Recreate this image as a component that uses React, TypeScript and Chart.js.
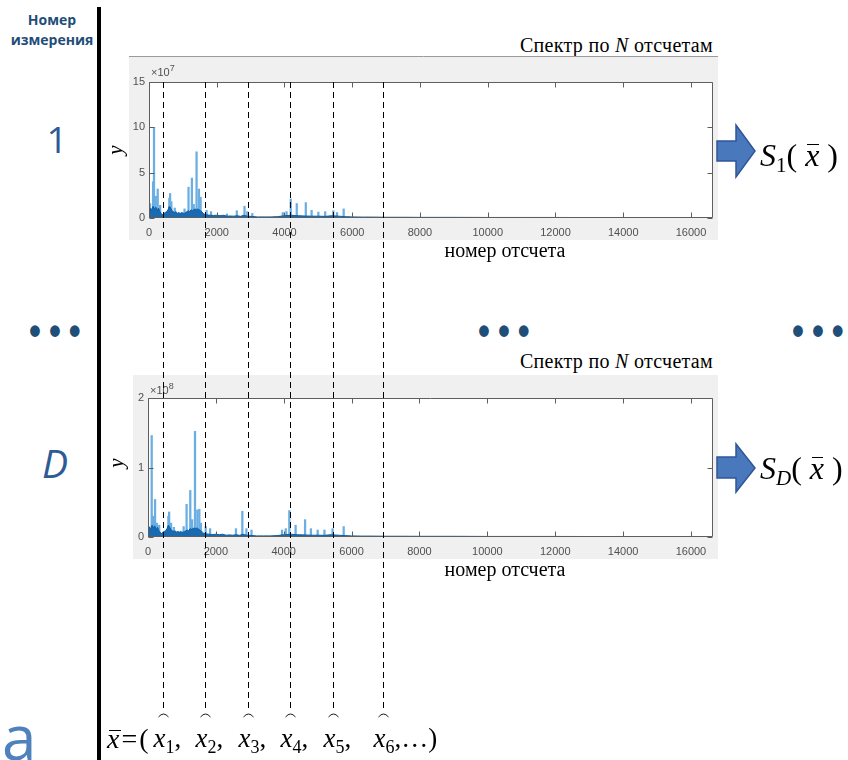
import React, { useEffect, useRef, useState } from "react";
import { Chart, registerables } from "chart.js";
Chart.register(...registerables);

// ---------- data ----------
const X_MAX = 16650;
const xTickValues = [0, 2000, 4000, 6000, 8000, 10000, 12000, 14000, 16000];
const y1TickValues = [0, 5, 10, 15]; // ×10^7
const y2TickValues = [0, 1, 2]; // ×10^8
const featureSamples = [415, 1662, 2908, 4154, 5430, 6914];

const floorPos = [0, 40, 80, 120, 160, 200, 240, 280, 320, 360,
  400, 440, 480, 520, 560, 600, 640, 680, 720, 760,
  800, 840, 880, 920, 960, 1000, 1040, 1080, 1120, 1160,
  1200, 1240, 1280, 1320, 1360, 1400, 1440, 1480, 1520, 1560,
  1600, 1650, 1700, 1800, 1900, 2000, 2100, 2200, 2300, 2400,
  2500, 2600, 2700, 2800, 2900, 3000, 3200, 3400, 3600, 3800,
  4000, 4200, 4400, 4600, 4800, 5000, 5200, 5400, 5600, 5800,
  6000, 6300, 6600, 7000, 7500, 8000, 9000, 10000, 11000, 12000,
  13000, 14000, 15000, 16000, 16400];

const floor1Val = [0.2, 1.1, 0.9, 1.3, 1.0, 1.2, 0.8, 1.1, 0.7, 0.5,
  0.35, 0.5, 0.6, 0.7, 0.9, 1.3, 1.1, 0.8, 0.7, 0.6,
  0.7, 0.5, 0.6, 0.5, 0.6, 0.55, 0.5, 0.6, 0.7, 0.8,
  0.7, 0.9, 0.8, 0.9, 1.0, 0.9, 1.0, 0.9, 0.8, 0.7,
  0.5, 0.4, 0.35, 0.3, 0.28, 0.3, 0.25, 0.3, 0.2, 0.22,
  0.2, 0.25, 0.18, 0.3, 0.2, 0.18, 0.12, 0.12, 0.12, 0.15,
  0.25, 0.3, 0.25, 0.22, 0.2, 0.2, 0.18, 0.25, 0.2, 0.15,
  0.12, 0.1, 0.1, 0.08, 0.08, 0.07, 0.07, 0.06, 0.06, 0.06,
  0.05, 0.05, 0.05, 0.05, 0.05];

const floor2Val = [0.03, 0.14, 0.12, 0.17, 0.13, 0.16, 0.1, 0.14, 0.09, 0.07,
  0.05, 0.07, 0.08, 0.09, 0.12, 0.17, 0.14, 0.1, 0.09, 0.08,
  0.09, 0.07, 0.08, 0.07, 0.08, 0.07, 0.07, 0.08, 0.09, 0.1,
  0.09, 0.12, 0.11, 0.12, 0.13, 0.12, 0.13, 0.12, 0.1, 0.09,
  0.07, 0.05, 0.045, 0.04, 0.035, 0.04, 0.033, 0.04, 0.026, 0.03,
  0.026, 0.033, 0.024, 0.04, 0.026, 0.024, 0.016, 0.016, 0.016, 0.02,
  0.033, 0.04, 0.033, 0.03, 0.026, 0.026, 0.024, 0.033, 0.026, 0.02,
  0.016, 0.013, 0.013, 0.011, 0.011, 0.01, 0.01, 0.008, 0.008, 0.008,
  0.007, 0.007, 0.007, 0.007, 0.007];

const spike1Pos = [30, 120, 148, 200, 257, 330, 600, 623, 660, 760, 1050, 1167, 1266, 1320, 1404, 1474, 1523, 1700, 1830, 2300, 2592, 2820, 2900, 3050, 3950, 4060, 4184, 4362, 4629, 4800, 5000, 5200, 5440, 5550, 5747];
const spike1Val = [1.6, 4.0, 10.0, 2.4, 3.2, 1.4, 2.2, 2.7, 1.8, 1.1, 1.0, 3.4, 4.4, 1.5, 7.3, 3.2, 2.3, 0.85, 0.7, 0.45, 0.8, 1.3, 0.7, 0.5, 0.6, 0.7, 2.1, 1.6, 1.7, 0.85, 0.65, 0.7, 0.8, 0.6, 1.0];

const spike2Pos = [30, 109, 150, 208, 260, 330, 600, 623, 680, 760, 1050, 1137, 1246, 1300, 1385, 1454, 1513, 1560, 1700, 1830, 2592, 2780, 2900, 3050, 3950, 4060, 4164, 4350, 4629, 4800, 5000, 5200, 5440, 5767];
const spike2Val = [0.15, 1.46, 0.3, 0.54, 0.2, 0.17, 0.3, 0.36, 0.2, 0.14, 0.15, 0.47, 0.67, 0.25, 1.52, 0.39, 0.4, 0.2, 0.15, 0.12, 0.12, 0.37, 0.12, 0.1, 0.1, 0.12, 0.38, 0.17, 0.25, 0.12, 0.1, 0.1, 0.12, 0.15];

// ---------- layout ----------
const P1 = { left: 129, top: 56, width: 589, height: 184 };
const P2 = { left: 133, top: 375, width: 585, height: 184 };
const SERIF = "'Liberation Serif', 'Times New Roman', serif";
const SANS = "'Liberation Sans', Arial, sans-serif";
const CAL = "'Open Sans', 'Noto Sans', sans-serif";
const BLUE = "#2E5A96";
const DARKBLUE = "#1F4E79";
const TICK_COLOR = "#505050";

function framePlugin(topLine: boolean) {
  return {
    id: "frame",
    beforeDraw(chart: any) {
      const { ctx, chartArea: a, width, height } = chart;
      ctx.save();
      ctx.fillStyle = "#f0f0f0";
      ctx.fillRect(0, 0, width, height);
      if (topLine) {
        ctx.strokeStyle = "#9a9a9a";
        ctx.lineWidth = 1;
        ctx.beginPath();
        ctx.moveTo(0, 0.5);
        ctx.lineTo(width, 0.5);
        ctx.stroke();
      }
      ctx.fillStyle = "#ffffff";
      ctx.fillRect(a.left, a.top, a.right - a.left, a.bottom - a.top);
      ctx.restore();
    },
    afterDatasetsDraw(chart: any) {
      const { ctx, chartArea: a } = chart;
      const xs = chart.scales.x;
      const ys = chart.scales.y;
      const L = Math.round(a.left) + 0.5;
      const R = Math.round(a.right) - 0.5;
      const T = Math.round(a.top) + 0.5;
      const B = Math.round(a.bottom) - 0.5;
      ctx.save();
      ctx.strokeStyle = "#5e5e5e";
      ctx.lineWidth = 1;
      ctx.beginPath();
      ctx.rect(L, T, R - L, B - T);
      xs.ticks.forEach((t: any) => {
        const px = Math.round(xs.getPixelForValue(t.value)) + 0.5;
        ctx.moveTo(px, B);
        ctx.lineTo(px, B - 5);
        ctx.moveTo(px, T);
        ctx.lineTo(px, T + 5);
      });
      ys.ticks.forEach((t: any) => {
        const py = Math.round(ys.getPixelForValue(t.value)) + 0.5;
        ctx.moveTo(L, py);
        ctx.lineTo(L + 5, py);
        ctx.moveTo(R, py);
        ctx.lineTo(R - 5, py);
      });
      ctx.stroke();
      ctx.restore();
    },
  };
}

function makeChart(
  canvas: HTMLCanvasElement,
  spPos: number[],
  spVal: number[],
  flVal: number[],
  yTicks: number[],
  padding: any,
  yWidth: number,
  topLine: boolean
) {
  const tickFont = { family: SANS, size: 11 };
  return new Chart(canvas, {
    type: "bar",
    data: {
      datasets: [
        {
          type: "line",
          data: floorPos.map((x, i) => ({ x, y: flVal[i] })),
          borderColor: "#0b5fa5",
          backgroundColor: "#1a6ab2",
          borderWidth: 1,
          fill: "origin",
          pointRadius: 0,
          tension: 0,
        } as any,
        {
          type: "bar",
          data: spPos.map((x, i) => ({ x, y: spVal[i] })),
          backgroundColor: "#6aaee3",
          borderWidth: 0,
          barThickness: 1.6,
        } as any,
      ],
    },
    options: {
      responsive: false,
      animation: false,
      events: [],
      layout: { padding },
      plugins: {
        legend: { display: false },
        tooltip: { enabled: false },
        title: { display: false },
      },
      scales: {
        x: {
          type: "linear",
          min: 0,
          max: X_MAX,
          offset: false,
          grid: { display: false, offset: false, drawTicks: false },
          border: { display: false },
          afterBuildTicks: (s: any) => {
            s.ticks = xTickValues.map((value) => ({ value }));
          },
          ticks: {
            autoSkip: false,
            maxRotation: 0,
            color: TICK_COLOR,
            font: tickFont,
            padding: 8,
            callback: (v: any) => String(v),
          },
          afterFit: (s: any) => {
            s.height = 22;
          },
        },
        y: {
          type: "linear",
          min: 0,
          max: yTicks[yTicks.length - 1],
          grid: { display: false, drawTicks: false },
          border: { display: false },
          afterBuildTicks: (s: any) => {
            s.ticks = yTicks.map((value) => ({ value }));
          },
          ticks: { color: TICK_COLOR, font: tickFont, padding: 4, callback: (v: any) => String(v) },
          afterFit: (s: any) => {
            s.width = yWidth;
          },
        },
      },
    } as any,
    plugins: [framePlugin(topLine)],
  });
}

const abs = (o: any) => ({ position: "absolute" as const, whiteSpace: "nowrap" as const, ...o });

function Xbar() {
  return (
    <span style={{ display: "inline-block", position: "relative", lineHeight: "1em", fontStyle: "italic" }}>
      x
      <span style={{ position: "absolute", left: "0.06em", right: "0.02em", top: "0.17em", borderTop: "1.3px solid #000" }} />
    </span>
  );
}

function Title({ top }: { top: number }) {
  return (
    <div style={abs({ right: 848 - 713, top, fontFamily: SERIF, fontSize: 20, lineHeight: "22px", color: "#000", letterSpacing: 0.3 })}>
      Спектр по <i>N</i> отсчетам
    </div>
  );
}

function XLabel({ top }: { top: number }) {
  return (
    <div style={abs({ left: 405, width: 200, textAlign: "center", top, fontFamily: SERIF, fontSize: 20, lineHeight: "20px" })}>
      номер отсчета
    </div>
  );
}

function YLabel({ cx, cy }: { cx: number; cy: number }) {
  return (
    <div
      style={abs({
        left: cx - 10,
        top: cy - 10,
        width: 20,
        height: 20,
        lineHeight: "20px",
        textAlign: "center",
        fontFamily: SERIF,
        fontStyle: "italic",
        fontSize: 21,
        transform: "rotate(-90deg)",
      })}
    >
      y
    </div>
  );
}

function Exp({ left, top, p }: { left: number; top: number; p: string }) {
  return (
    <div style={abs({ left, top, fontFamily: SANS, fontSize: 11, lineHeight: "12px", color: TICK_COLOR })}>
      ×10<span style={{ fontSize: 9, position: "relative", top: -5 }}>{p}</span>
    </div>
  );
}

function SLabel({ top, sub, subItalic }: { top: number; sub: string; subItalic: boolean }) {
  return (
    <div style={abs({ left: 760, top, fontFamily: SERIF, fontSize: 32, lineHeight: "32px" })}>
      <i>S</i>
      <span style={{ fontSize: 21, position: "relative", top: 6, fontStyle: subItalic ? "italic" : "normal" }}>{sub}</span>
      (&nbsp;<Xbar />&nbsp;)
    </div>
  );
}

function Dots({ left, top }: { left: number; top: number }) {
  return (
    <div
      style={abs({
        left,
        top,
        fontFamily: SANS,
        fontWeight: "bold",
        fontSize: 34,
        lineHeight: "34px",
        letterSpacing: 8,
        color: DARKBLUE,
        transform: "scaleY(1.2)",
      })}
    >
      •••
    </div>
  );
}

export default function App() {
  const c1 = useRef<HTMLCanvasElement>(null);
  const c2 = useRef<HTMLCanvasElement>(null);
  const [guides, setGuides] = useState<{ xs: number[]; top: number } | null>(null);

  useEffect(() => {
    const ch1 = makeChart(c1.current!, spike1Pos, spike1Val, floor1Val, y1TickValues,
      { left: 0, top: 26, right: 5, bottom: 0 }, 20, true);
    const ch2 = makeChart(c2.current!, spike2Pos, spike2Val, floor2Val, y2TickValues,
      { left: 0, top: 23, right: 5, bottom: 0 }, 15, false);
    const xs = featureSamples.map((v) => Math.round(P1.left + ch1.scales.x.getPixelForValue(v)) + 0.5);
    setGuides({ xs, top: P1.top + ch1.chartArea.top });
    return () => {
      ch1.destroy();
      ch2.destroy();
    };
  }, []);

  const GUIDE_BOTTOM = 712;

  return (
    <div style={{ position: "absolute", left: 0, top: 0, width: 848, height: 760, overflow: "hidden", background: "#fff" }}>
      {/* left column */}
      <div style={abs({ left: 0, width: 104, textAlign: "center", top: 12, fontFamily: CAL, fontWeight: "bold", fontSize: 14, lineHeight: "16px", color: DARKBLUE })}>
        Номер
      </div>
      <div style={abs({ left: 0, width: 104, textAlign: "center", top: 32, fontFamily: CAL, fontWeight: "bold", fontSize: 14, lineHeight: "16px", color: DARKBLUE })}>
        измерения
      </div>
      <div style={abs({ left: 97, top: 7, width: 4, height: 760, background: "#000" })} />
      <div style={abs({ left: 37, width: 40, textAlign: "center", top: 120, fontFamily: CAL, fontSize: 37, lineHeight: "37px", color: BLUE })}>1</div>
      <div style={abs({ left: 35, width: 40, textAlign: "center", top: 443, fontFamily: CAL, fontStyle: "italic", fontSize: 39, lineHeight: "39px", color: BLUE })}>D</div>
      <Dots left={29} top={314} />
      <Dots left={478} top={314} />
      <Dots left={792} top={314} />
      <div style={abs({ left: 2, top: 705, fontFamily: CAL, fontSize: 62, lineHeight: "62px", color: "#4F81BD" })}>a</div>

      {/* chart 1 */}
      <Title top={34} />
      <canvas ref={c1} width={P1.width} height={P1.height}
        style={{ position: "absolute", left: P1.left, top: P1.top, width: P1.width, height: P1.height }} />
      <Exp left={151} top={66} p="7" />
      <YLabel cx={115} cy={150} />
      <XLabel top={240} />

      {/* chart 2 */}
      <Title top={350} />
      <canvas ref={c2} width={P2.width} height={P2.height}
        style={{ position: "absolute", left: P2.left, top: P2.top, width: P2.width, height: P2.height }} />
      <Exp left={150} top={384} p="8" />
      <YLabel cx={116} cy={463} />
      <XLabel top={559} />

      {/* overlay: guides and arrows */}
      <svg width={848} height={760} style={{ position: "absolute", left: 0, top: 0, pointerEvents: "none" }}>
        {guides &&
          guides.xs.map((x, i) => (
            <g key={i}>
              <line x1={x} y1={guides.top} x2={x} y2={GUIDE_BOTTOM} stroke="#000" strokeWidth={1} strokeDasharray="6 4" />
              <path d={`M ${x - 5} ${GUIDE_BOTTOM + 5} Q ${x} ${GUIDE_BOTTOM - 1} ${x + 5} ${GUIDE_BOTTOM + 5}`} fill="none" stroke="#000" strokeWidth={0.9} />
            </g>
          ))}
        <polygon points="717,141 736,141 736,125 755,151 736,177 736,161 717,161" fill="#4a78bd" stroke="#2f5597" strokeWidth={1.5} />
        <polygon points="717,457 736,457 736,444 755,468 736,492 736,478 717,478" fill="#4a78bd" stroke="#2f5597" strokeWidth={1.5} />
      </svg>

      <SLabel top={139} sub="1" subItalic={false} />
      <SLabel top={452} sub="D" subItalic={true} />

      {/* bottom formula */}
      <div style={abs({ left: 107, top: 725, fontFamily: SERIF, fontSize: 28, lineHeight: "27px", letterSpacing: 2 })}>
        <Xbar />=(
      </div>
      {guides &&
        guides.xs.map((x, i) => (
          <div key={i} style={abs({ left: x - 10, top: 725, fontFamily: SERIF, fontSize: 27, lineHeight: "27px" })}>
            <i>x</i>
            <span style={{ fontSize: 18, position: "relative", top: 6 }}>{i + 1}</span>
            {i === guides.xs.length - 1 ? ",…)" : ","}
          </div>
        ))}
    </div>
  );
}
